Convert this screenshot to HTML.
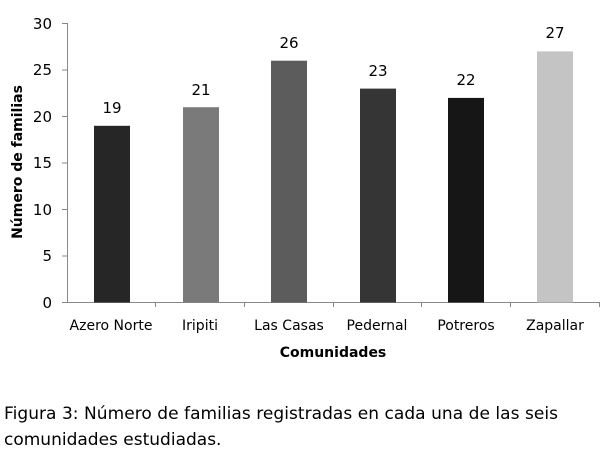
<!DOCTYPE html>
<html><head><meta charset="utf-8"><style>
body{margin:0;background:#fff;}
svg text{font-family:"DejaVu Sans","Liberation Sans",sans-serif;}
</style></head><body>
<svg width="604" height="456" xmlns="http://www.w3.org/2000/svg">
<g stroke="#888" stroke-width="1" fill="none">
<line x1="67.5" y1="23" x2="67.5" y2="302"/>
<line x1="67" y1="302.5" x2="600" y2="302.5"/>
<line x1="62" y1="23.5" x2="67" y2="23.5"/>
<line x1="62" y1="70" x2="67" y2="70"/>
<line x1="62" y1="116.5" x2="67" y2="116.5"/>
<line x1="62" y1="163" x2="67" y2="163"/>
<line x1="62" y1="209.5" x2="67" y2="209.5"/>
<line x1="62" y1="256" x2="67" y2="256"/>
<line x1="62" y1="302.5" x2="67" y2="302.5"/>
<line x1="155.5" y1="302" x2="155.5" y2="307"/>
<line x1="244.5" y1="302" x2="244.5" y2="307"/>
<line x1="333.5" y1="302" x2="333.5" y2="307"/>
<line x1="421.5" y1="302" x2="421.5" y2="307"/>
<line x1="510.5" y1="302" x2="510.5" y2="307"/>
<line x1="599.5" y1="302" x2="599.5" y2="307"/>
</g>
<g font-size="15" fill="#000" text-anchor="end">
<text x="52" y="29">30</text><text x="52" y="75">25</text><text x="52" y="122">20</text>
<text x="52" y="168">15</text><text x="52" y="215">10</text><text x="52" y="261">5</text><text x="52" y="308">0</text>
</g>
<rect x="94" y="125.8" width="36" height="176.7" fill="#262626"/>
<rect x="183" y="107.2" width="36" height="195.3" fill="#7a7a7a"/>
<rect x="271" y="60.7" width="36" height="241.8" fill="#5c5c5c"/>
<rect x="360" y="88.6" width="36" height="213.9" fill="#353535"/>
<rect x="448" y="97.9" width="36" height="204.6" fill="#161616"/>
<rect x="537" y="51.4" width="36" height="251.1" fill="#c4c4c4"/>
<g font-size="15" fill="#000" text-anchor="middle">
<text x="112" y="113">19</text><text x="201" y="95">21</text><text x="289" y="48">26</text>
<text x="378" y="76">23</text><text x="466" y="85">22</text><text x="555" y="38">27</text>
</g>
<g font-size="14" fill="#000" text-anchor="middle">
<text x="111" y="330">Azero Norte</text><text x="200" y="330">Iripiti</text><text x="289" y="330">Las Casas</text>
<text x="377" y="330">Pedernal</text><text x="466" y="330">Potreros</text><text x="555" y="330">Zapallar</text>
<text x="333" y="357" font-weight="bold" font-size="14">Comunidades</text>
<text transform="translate(22,162) rotate(-90)" font-weight="bold" font-size="14">Número de familias</text>
</g>
<text x="4" y="419" font-size="17" fill="#000" textLength="554" lengthAdjust="spacing">Figura 3: Número de familias registradas en cada una de las seis</text>
<text x="4" y="445" font-size="17" fill="#000">comunidades estudiadas.</text>
</svg>
</body></html>
